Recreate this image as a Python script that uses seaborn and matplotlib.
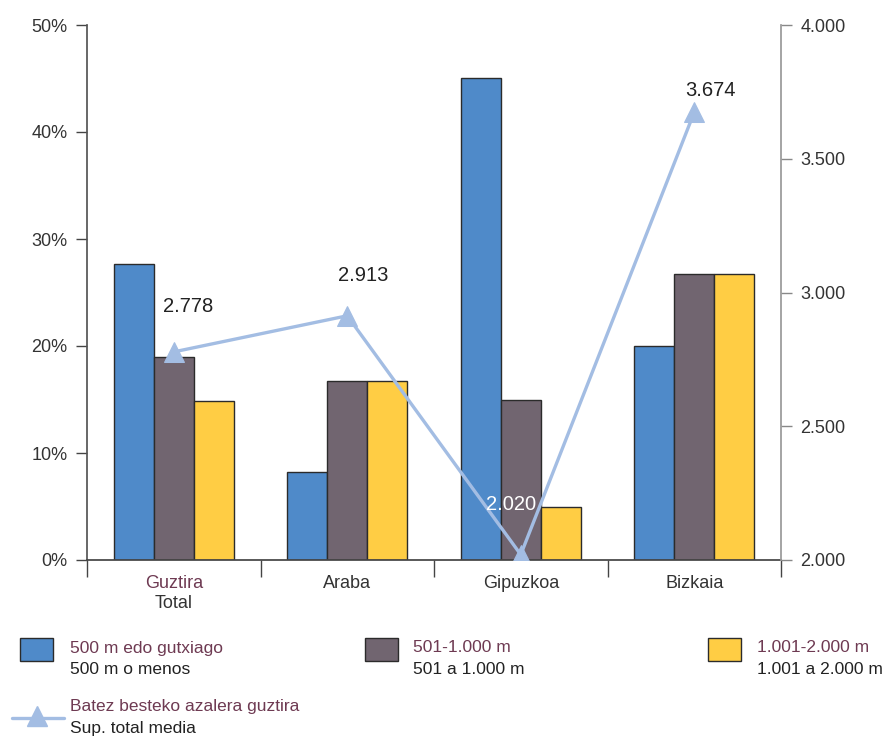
import numpy as np
import pandas as pd
import matplotlib
matplotlib.use("Agg")
import matplotlib.pyplot as plt
import seaborn as sns
from matplotlib.patches import Rectangle
from matplotlib.lines import Line2D
from matplotlib.ticker import FuncFormatter, FixedLocator

# ---- data ----
categories = ["Guztira", "Araba", "Gipuzkoa", "Bizkaia"]
series_names = ["500 m edo gutxiago", "501-1.000 m", "1.001-2.000 m"]
s_500 = [27.7, 8.2, 45.0, 20.0]
s_1000 = [19.0, 16.7, 15.0, 26.7]
s_2000 = [14.9, 16.7, 5.0, 26.7]
avg_surface = [2778, 2913, 2020, 3674]
avg_labels = ["2.778", "2.913", "2.020", "3.674"]
legend_eu = ["500 m edo gutxiago", "501-1.000 m", "1.001-2.000 m", "Batez besteko azalera guztira"]
legend_es = ["500 m o menos", "501 a 1.000 m", "1.001 a 2.000 m", "Sup. total media"]

colors = ["#4f8ac9", "#716570", "#ffcd44"]
line_color = "#a3bde3"
maroon = "#6e3a52"
dark = "#2b2b2b"

sns.set_theme(style="white")
plt.rcParams["font.family"] = ["Liberation Sans", "DejaVu Sans"]

df = pd.DataFrame({
    "cat": categories * 3,
    "serie": np.repeat(series_names, 4),
    "val": s_500 + s_1000 + s_2000,
})

fig = plt.figure(figsize=(8.93, 7.36), dpi=100)
ax = fig.add_axes([87 / 893, 1 - 560 / 736, (781 - 87) / 893, (560 - 25) / 736])

sns.barplot(data=df, x="cat", y="val", hue="serie", hue_order=series_names,
            palette=colors, saturation=1, width=0.69, gap=0, edgecolor=dark, linewidth=1.0,
            ax=ax, legend=False, errorbar=None)

ax.set_ylim(0, 50)
ax.set_xlim(-0.5, 3.5)
ax.set_yticks([0, 10, 20, 30, 40, 50])
ax.yaxis.set_major_formatter(FuncFormatter(lambda v, p: f"{int(v)}%"))
ax.set_xlabel("")
ax.set_ylabel("")

# boundary ticks (major) and labels at centers (minor)
ax.xaxis.set_major_locator(FixedLocator([-0.5, 0.5, 1.5, 2.5, 3.5]))
ax.set_xticklabels([""] * 5)
ax.xaxis.set_minor_locator(FixedLocator([0, 1, 2, 3]))
ax.set_xticklabels(categories, minor=True)
ax.tick_params(axis="x", which="major", length=12, width=1, color="#444", direction="out", bottom=True)
ax.tick_params(axis="x", which="minor", length=0, labelsize=13, labelcolor="#333", pad=11)
ax.xaxis.get_minorticklabels()[0].set_color(maroon)
ax.text(0, -0.066, "Total", transform=ax.get_xaxis_transform(), ha="center", va="top",
        fontsize=13, color="#333")
ax.tick_params(axis="y", length=8, width=1, color="#444", direction="out", left=True,
               labelsize=13, labelcolor="#333", pad=6)

for side in ["top", "right"]:
    ax.spines[side].set_visible(False)
ax.spines["left"].set_color("#555")
ax.spines["bottom"].set_color("#444")

# secondary axis line
ax2 = ax.twinx()
sns.lineplot(x=np.arange(4), y=avg_surface, ax=ax2, color=line_color, linewidth=2.4,
             marker="^", markersize=14, markeredgecolor=line_color, markerfacecolor=line_color)
ax2.set_ylim(2000, 4000)
ax2.set_xlim(-0.5, 3.5)
ax2.set_yticks([2000, 2500, 3000, 3500, 4000])
ax2.yaxis.set_major_formatter(FuncFormatter(lambda v, p: f"{int(v)//1000}.{int(v)%1000:03d}"))
ax2.tick_params(axis="y", length=8, width=1, color="#888", direction="out", right=True,
                labelsize=13, labelcolor="#333", pad=6)
for side in ["top", "left", "bottom"]:
    ax2.spines[side].set_visible(False)
ax2.spines["right"].set_color("#999")
ax2.set_ylabel("")

offsets = [(14, 45), (16, 40), (-10, 50), (16, 22)]
label_colors = ["#222", "#222", "white", "#222"]
for i, (v, lab) in enumerate(zip(avg_surface, avg_labels)):
    ax2.annotate(lab, (i, v), xytext=offsets[i], textcoords="offset pixels",
                 ha="center", va="center", fontsize=14.5, color=label_colors[i])

# ---- legend (manual) ----
def fx(px):
    return px / 893

def fy(py):
    return 1 - py / 736

sq_x = [20, 365, 708]
txt_x = [70, 413, 757]
for i in range(3):
    fig.patches.append(Rectangle((fx(sq_x[i]), fy(661)), 33 / 893, 23 / 736,
                                 transform=fig.transFigure, facecolor=colors[i],
                                 edgecolor=dark, linewidth=1.0))
    fig.text(fx(txt_x[i]), fy(648), legend_eu[i], fontsize=12.5, color=maroon, va="center")
    fig.text(fx(txt_x[i]), fy(670), legend_es[i], fontsize=12.5, color="#222", va="center")

fig.lines.append(Line2D([fx(12), fx(64)], [fy(718), fy(718)], transform=fig.transFigure,
                        color=line_color, linewidth=2.4))
fig.lines.append(Line2D([fx(37)], [fy(716)], transform=fig.transFigure, marker="^",
                        markersize=14, color=line_color, linestyle="none"))
fig.text(fx(70), fy(706), legend_eu[3], fontsize=12.5, color=maroon, va="center")
fig.text(fx(70), fy(728), legend_es[3], fontsize=12.5, color="#222", va="center")

fig.savefig("out.png", dpi=100)
